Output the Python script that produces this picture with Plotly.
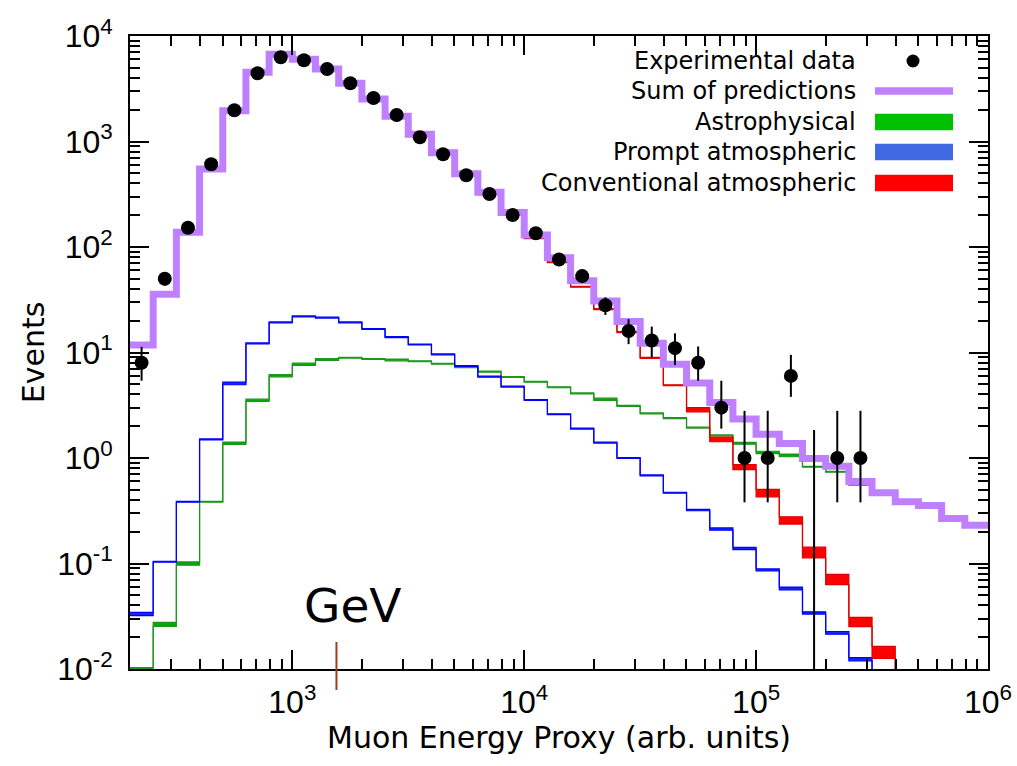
import numpy as np
import plotly.graph_objects as go

# Binning: 0.1 decade wide bins in the muon energy proxy
log_edges = np.round(np.arange(2.3, 6.05, 0.1), 2)
bin_edges = 10 ** log_edges
bin_centers = 10 ** ((log_edges[:-1] + log_edges[1:]) / 2)

# Predicted events per bin
conventional = [11.75, 35.5, 137.5, 547, 1950, 4515, 6685, 5980, 4830, 3530,
                2505, 1712, 1150, 766, 480, 317, 202, 121, 71.6, 42,
                25.8, 15.6, 8.9, 4.9, 2.87, 1.50, 0.82, 0.466, 0.257, 0.128,
                0.071, 0.028, 0.0145, 0.0058, 0.0025, 0.001, 0.0004]
prompt = [0.0332, 0.104, 0.385, 1.50, 5.1, 12.2, 19.3, 22.0, 21.4, 19.3,
          16.7, 14.0, 11.9, 9.6, 7.45, 5.9, 4.75, 3.55, 2.6, 1.9,
          1.40, 1.0, 0.685, 0.469, 0.321, 0.212, 0.139, 0.087, 0.058, 0.034,
          0.022, 0.0124, 0.0068, 0.0037, 0.002, 0.0011, 0.0006]
astro = [0.0102, 0.0265, 0.100, 0.385, 1.38, 3.52, 6.03, 7.73, 8.6, 8.93,
         8.67, 8.5, 8.25, 7.83, 7.25, 6.58, 5.86, 5.28, 4.68, 4.1,
         3.6, 3.12, 2.65, 2.39, 1.94, 1.64, 1.38, 1.13, 1.06, 0.826,
         0.74, 0.558, 0.446, 0.375, 0.35, 0.265, 0.23]

# Relative half-width of the uncertainty band of each prediction
conventional_band = [0.01] * 24 + [0.045, 0.05, 0.055, 0.08, 0.08, 0.115,
                                   0.11, 0.10, 0.13, 0.13, 0.13, 0.13, 0.13]
prompt_band = [0.036, 0.01, 0.01, 0.01, 0.03, 0.01, 0.01, 0.01, 0.01, 0.01,
               0.01, 0.01, 0.01, 0.01, 0.01, 0.01, 0.01, 0.01, 0.01, 0.01,
               0.01, 0.01, 0.01, 0.01, 0.015, 0.025, 0.025, 0.02, 0.03, 0.025,
               0.03, 0.035, 0.035, 0.035, 0.035, 0.035, 0.035]
astro_band = [0.01, 0.045, 0.035, 0.01, 0.025, 0.025, 0.025, 0.025, 0.02, 0.01,
              0.01, 0.02, 0.01, 0.01, 0.01, 0.01, 0.01, 0.01, 0.01, 0.01,
              0.025, 0.01, 0.01, 0.01, 0.01, 0.01, 0.02, 0.025, 0.03, 0.01,
              0.01, 0.01, 0.01, 0.01, 0.01, 0.01, 0.01]

# Observed events (first 32 bins) with asymmetric errors
observed = [8, 50, 152, 608, 1976, 4430, 6280, 5886, 4870, 3560,
            2580, 1782, 1096, 756, 478, 318, 201, 135, 76, 53,
            28, 16, 13, 11, 8, 3, 1, 1, 6, 0,
            1, 1]
observed_err_up = [3.3, 7.3, 12.8, 25, 44, 67, 79, 77, 70, 60,
                   51, 42, 33, 27.5, 22, 18, 14.2, 11.6, 8.7, 7.3,
                   5.3, 4.7, 4.6, 4.2, 3.4, 2.4, 1.8, 1.8, 3.5, 1.84,
                   1.8, 1.8]
observed_err_down = [2.6, 7, 12.3, 24.6, 44, 66.5, 79, 77, 70, 60,
                     51, 42, 33, 27.5, 22, 17.8, 14.2, 11.6, 8.7, 7.3,
                     5.3, 4.0, 4.0, 3.4, 2.6, 1.1, 0.62, 0.62, 2.2, 0,
                     0.62, 0.62]

# Axis decades and their labels
x_decades = [3, 4, 5, 6]
y_decades = [-2, -1, 0, 1, 2, 3, 4]
x_tick_text = ["10<sup>%d</sup>" % d for d in x_decades]
y_tick_text = ["10<sup>%d</sup>\u00a0" % d for d in y_decades]

total = [c + p + a for c, p, a in zip(conventional, prompt, astro)]

Y_RANGE = [-2, 4]
X_RANGE = [2.3, 6]


def step(values):
    return list(values) + [values[-1]]


fig = go.Figure()


def add_band(values, band, line_color, fill_color):
    lo = [v * (1 - b) for v, b in zip(values, band)]
    hi = [v * (1 + b) for v, b in zip(values, band)]
    fig.add_trace(go.Scatter(x=bin_edges, y=step(lo), mode="lines",
                             line=dict(color=line_color, width=1.2, shape="hv"),
                             hoverinfo="skip", showlegend=False))
    fig.add_trace(go.Scatter(x=bin_edges, y=step(hi), mode="lines",
                             line=dict(color=line_color, width=1.2, shape="hv"),
                             fill="tonexty", fillcolor=fill_color,
                             hoverinfo="skip", showlegend=False))


add_band(astro, astro_band, "rgb(30,150,30)", "rgb(0,170,0)")
add_band(prompt, prompt_band, "rgb(0,0,255)", "rgb(20,40,240)")
add_band(conventional, conventional_band, "rgb(220,0,0)", "rgb(255,0,0)")

# Sum of predictions
fig.add_trace(go.Scatter(x=bin_edges, y=step(total), mode="lines",
                         line=dict(color="#bf80ff", width=7, shape="hv"),
                         showlegend=False))

# Data points with non-zero counts
n_obs = len(observed)
obs_x = [bin_centers[i] for i in range(n_obs) if observed[i] > 0]
obs_y = [observed[i] for i in range(n_obs) if observed[i] > 0]
obs_up = [observed_err_up[i] for i in range(n_obs) if observed[i] > 0]
obs_dn = [observed_err_down[i] for i in range(n_obs) if observed[i] > 0]
fig.add_trace(go.Scatter(
    x=obs_x, y=obs_y, mode="markers",
    marker=dict(color="black", size=14),
    error_y=dict(type="data", symmetric=False, array=obs_up,
                 arrayminus=obs_dn, color="black", thickness=2, width=0),
    showlegend=False))

# Empty bins: upper limit drawn from below the axis floor
floor = 10 ** (Y_RANGE[0] - 0.5)
for i in range(n_obs):
    if observed[i] == 0:
        fig.add_trace(go.Scatter(
            x=[bin_centers[i], bin_centers[i]],
            y=[floor, observed[i] + observed_err_up[i]],
            mode="lines", line=dict(color="black", width=2),
            showlegend=False))

# Legend drawn as text on the left of each sample
plot_l, plot_r, plot_t, plot_b = 130, 988, 36, 669


def px_to_paper(x, y):
    return (x - plot_l) / (plot_r - plot_l), (plot_b - y) / (plot_b - plot_t)


legend_rows = [
    ("Experimental data", 61, "dot", "black"),
    ("Sum of predictions", 91, "thin", "#bf80ff"),
    ("Astrophysical", 122, "box", "rgb(0,192,0)"),
    ("Prompt atmospheric", 152, "box", "rgb(65,105,225)"),
    ("Conventional atmospheric", 183, "box", "rgb(255,0,0)"),
]
legend_font = dict(family="DejaVu Sans", size=24, color="black")
for label, yc, kind, color in legend_rows:
    tx, ty = px_to_paper(858, yc)
    fig.add_annotation(x=tx, y=ty, xref="paper", yref="paper", text=label,
                       showarrow=False, xanchor="right", yanchor="middle",
                       font=legend_font)
    x0, _ = px_to_paper(875, yc)
    x1, _ = px_to_paper(953, yc)
    if kind == "dot":
        cx, cy = px_to_paper(913, yc)
        r = 6.5
        fig.add_shape(type="circle", xref="paper", yref="paper",
                      x0=cx - r / (plot_r - plot_l), x1=cx + r / (plot_r - plot_l),
                      y0=cy - r / (plot_b - plot_t), y1=cy + r / (plot_b - plot_t),
                      fillcolor=color, line=dict(width=0))
    else:
        h = 3.7 if kind == "thin" else 8.3
        _, y0 = px_to_paper(0, yc + h)
        _, y1 = px_to_paper(0, yc - h)
        fig.add_shape(type="rect", xref="paper", yref="paper",
                      x0=x0, x1=x1, y0=y0, y1=y1,
                      fillcolor=color, line=dict(width=0))

# GeV marker on the energy axis
gev_x = 1550
_, gy0 = px_to_paper(0, 642)
_, gy1 = px_to_paper(0, 690)
fig.add_shape(type="line", xref="x", yref="paper", x0=gev_x, x1=gev_x,
              y0=gy0, y1=gy1, line=dict(color="rgb(160,60,30)", width=2))
gx, gy = px_to_paper(353, 605)
fig.add_annotation(x=gx, y=gy, xref="paper", yref="paper", text="GeV",
                   showarrow=False, xanchor="center", yanchor="middle",
                   font=dict(family="DejaVu Sans", size=47, color="black"))

title_font = dict(family="DejaVu Sans", size=30, color="black")

# Energy axis title placed just below the tick labels
tx, ty = px_to_paper((plot_l + plot_r) / 2, 738)
fig.add_annotation(x=tx, y=ty, xref="paper", yref="paper",
                   text="Muon Energy Proxy (arb. units)", showarrow=False,
                   xanchor="center", yanchor="middle", font=title_font)

tick_font = dict(family="Liberation Sans", size=32, color="black")
axis_common = dict(
    type="log", showline=True, linecolor="black", linewidth=2,
    mirror="ticks", ticks="inside", ticklen=19, tickwidth=1.5,
    tickcolor="black", tickfont=tick_font, showgrid=False, zeroline=False,
    automargin=False,
    minor=dict(ticks="inside", ticklen=10, tickwidth=1.5, tickcolor="black",
               dtick="D1", showgrid=False),
)

fig.update_layout(
    width=1017, height=766,
    margin=dict(l=plot_l, r=1017 - plot_r, t=plot_t, b=766 - plot_b),
    paper_bgcolor="white", plot_bgcolor="white",
    showlegend=False,
    xaxis=dict(range=X_RANGE,
               tickvals=[10 ** d for d in x_decades], ticktext=x_tick_text,
               ticklabelstandoff=4,
               **axis_common),
    yaxis=dict(range=Y_RANGE,
               tickvals=[10 ** d for d in y_decades], ticktext=y_tick_text,
               title=dict(text="Events", font=title_font, standoff=4),
               **axis_common),
)

fig.write_html("out.html")
